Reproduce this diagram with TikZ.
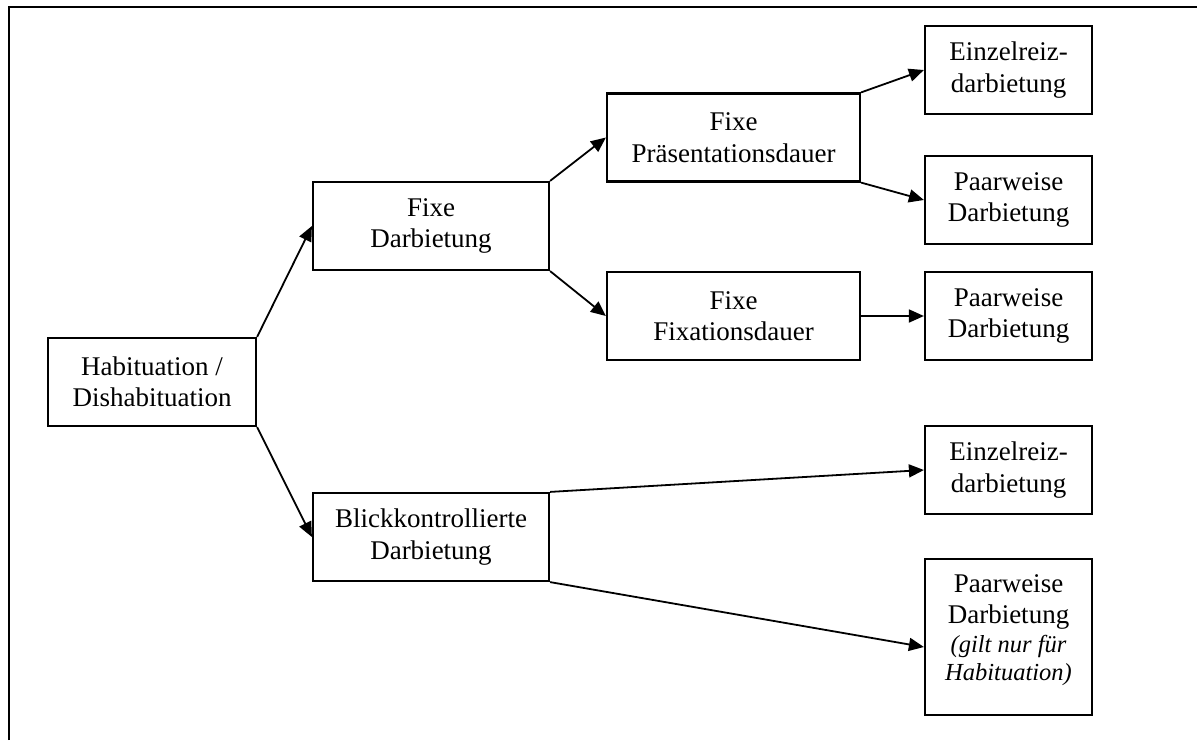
\documentclass[tikz,border=0pt]{standalone}
\usepackage{fontspec}
\setmainfont{Liberation Serif}
\usetikzlibrary{arrows.meta}
\begin{document}
\begin{tikzpicture}[x=1pt,y=-1pt,
  box/.style={draw, line width=2.2pt, align=center, inner sep=0pt,
    font=\fontsize{27}{31.5}\selectfont},
  conn/.style={line width=1.8pt, -{Triangle[length=15pt,width=13pt]}}]
\useasboundingbox (0,0) rectangle (1197,740);
\draw[line width=2.4pt] (9,740) -- (9,7) -- (1197,7);

\node[box, minimum width=208pt, minimum height=88pt] (H) at (152,382) {Habituation /\\Dishabituation};
\node[box, minimum width=236pt, minimum height=88pt] (FD) at (431,226) {Fixe\\Darbietung};
\node[box, minimum width=236pt, minimum height=88pt] (B) at (431,537) {Blickkontrollierte\\Darbietung};
\node[box, minimum width=253pt, minimum height=88pt] (FP) at (733.5,137.5) {Fixe\\Präsentationsdauer};
\node[box, minimum width=253pt, minimum height=88pt] (FF) at (733.5,316) {Fixe\\Fixationsdauer};
\node[box, minimum width=167pt, minimum height=88pt] (E1) at (1008.5,70) {Einzelreiz-\\darbietung};
\node[box, minimum width=167pt, minimum height=88pt] (P1) at (1008.5,200) {Paarweise\\Darbietung};
\node[box, minimum width=167pt, minimum height=88pt] (P2) at (1008.5,316) {Paarweise\\Darbietung};
\node[box, minimum width=167pt, minimum height=88pt] (E2) at (1008.5,470) {Einzelreiz-\\darbietung};
\node[box, minimum width=167pt, minimum height=156pt] (P3) at (1008.5,637) {};
\node[align=center, inner sep=0pt, font=\fontsize{27}{31.5}\selectfont] (P3t) at ([yshift=7pt]P3.center)
  {Paarweise\\Darbietung\\[-3pt]{\fontsize{24.5}{27}\selectfont\itshape (gilt nur für}\\[-3pt]{\fontsize{24.5}{27}\selectfont\itshape Habituation)}};

\draw[conn] (H.north east) -- (FD.west);
\draw[conn] (H.south east) -- (B.west);
\draw[conn] (FD.north east) -- (FP.west);
\draw[conn] (FD.south east) -- (FF.west);
\draw[conn] (FP.north east) -- (E1.west);
\draw[conn] (FP.south east) -- (P1.west);
\draw[conn] (FF.east) -- (P2.west);
\draw[conn] (B.north east) -- (E2.west);
\draw[conn] (B.south east) -- ([yshift=-10pt]P3.west);
\end{tikzpicture}
\end{document}
